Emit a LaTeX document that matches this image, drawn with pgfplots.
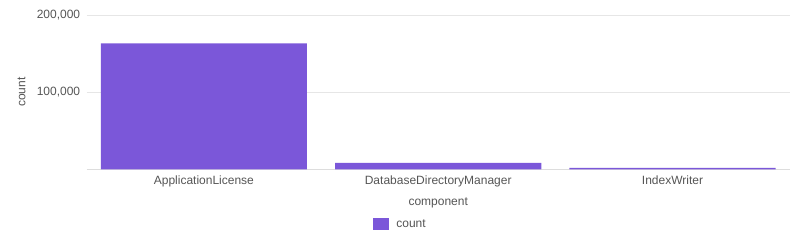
\documentclass[border=0pt]{standalone}
\usepackage{pgfplots}
\pgfplotsset{compat=1.18}
\usepackage{fontspec}
\setmainfont{Liberation Sans}
\definecolor{barc}{HTML}{7B57D9}
\definecolor{txt}{HTML}{555555}
\definecolor{gridc}{HTML}{E6E6E6}
\definecolor{axc}{HTML}{DDDDDD}
\begin{document}
\begin{tikzpicture}
\begin{axis}[
  at={(0,0)}, anchor=south west,
  scale only axis, width=703pt, height=154pt,
  xmin=-0.5, xmax=2.5, ymin=0, ymax=200000,
  xtick=data, xticklabels={ApplicationLicense,DatabaseDirectoryManager,IndexWriter},
  major x tick style={draw=none},
  extra x ticks={-0.5,0.5,1.5,2.5}, extra x tick labels={},
  extra x tick style={tick align=outside, major tick length=5pt, tick style={draw=axc, line width=0.8pt}},
  ytick={100000,200000},
  scaled y ticks=false,
  /pgf/number format/assume math mode=true,
  yticklabel={\pgfmathprintnumber[fixed,1000 sep={,}]{\tick}},
  ymajorgrids, grid style={draw=gridc, line width=0.8pt},
  axis x line*=bottom, axis y line*=left,
  x axis line style={draw=axc, line width=0.8pt, -},
  y axis line style={draw=none},
  ytick style={draw=none},
  tick label style={font=\fontsize{12}{14}\selectfont, text=txt},
  yticklabel style={xshift=-3pt},
  xticklabel style={yshift=-3pt},
  xlabel={component}, ylabel={count},
  label style={font=\fontsize{12}{14}\selectfont, text=txt},
  xlabel style={at={(axis description cs:0.5,-0.22)}, anchor=center},
  ylabel style={at={(axis description cs:-0.0925,0.5)}, anchor=center},
  legend style={at={(axis description cs:0.4464,-0.356)}, anchor=center, draw=none, font=\fontsize{12}{14}\selectfont, text=txt, inner sep=0pt},
  legend image code/.code={\fill[barc] (0pt,-6pt) rectangle (16pt,6pt); \path (21pt,0pt);},
]
\addplot[ybar, bar width=0.88, bar shift=0pt, fill=barc, draw=none] coordinates {(0,163700) (1,8400) (2,2000)};
\addlegendentry{count}
\end{axis}
\pgfresetboundingbox
\path (-86.7pt,-80.7pt) rectangle (713.3pt,169.3pt);
\end{tikzpicture}
\end{document}
